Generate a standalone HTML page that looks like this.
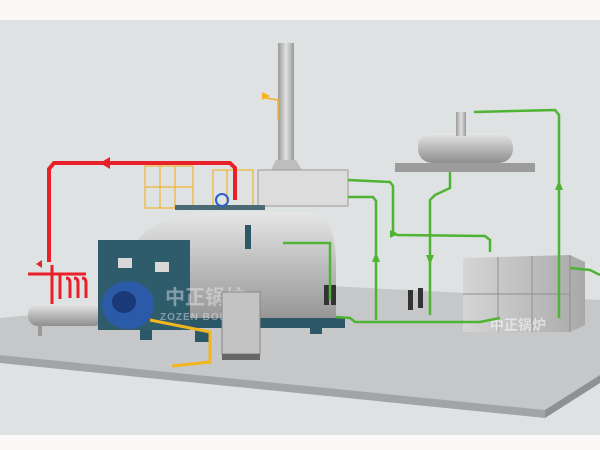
<!DOCTYPE html>
<html><head><meta charset="utf-8"><style>
html,body{margin:0;padding:0;width:600px;height:450px;overflow:hidden;background:#dfe2e3}
svg{display:block}
</style></head><body>
<svg width="600" height="450" viewBox="0 0 600 450" xmlns="http://www.w3.org/2000/svg" font-family="Liberation Sans, Noto Sans CJK SC, sans-serif">
<defs>
<linearGradient id="cyl" x1="0" y1="0" x2="0" y2="1"><stop offset="0" stop-color="#e6e6e6"/><stop offset="0.5" stop-color="#b9b9b9"/><stop offset="1" stop-color="#8e8e8e"/></linearGradient>
<linearGradient id="cylv" x1="0" y1="0" x2="1" y2="0"><stop offset="0" stop-color="#9a9a9a"/><stop offset="0.5" stop-color="#e0e0e0"/><stop offset="1" stop-color="#9a9a9a"/></linearGradient>
<linearGradient id="tank" x1="0" y1="0" x2="1" y2="0"><stop offset="0" stop-color="#d5d5d5"/><stop offset="1" stop-color="#a9a9a9"/></linearGradient>
</defs>
<rect x="0" y="0" width="600" height="20" fill="#fcf8f7"/>
<rect x="0" y="435" width="600" height="15" fill="#fcf8f7"/>
<polygon points="0,318 330,286 600,300 600,375 545,410 0,355" fill="#c6c7c9"/>
<polygon points="0,355 545,410 545,418 0,363" fill="#a3a4a6"/>
<polygon points="545,410 600,375 600,383 545,418" fill="#8f9092"/>
<rect x="278" y="43" width="16" height="122" fill="url(#cylv)"/>
<polygon points="276,160 296,160 303,172 270,172" fill="#bdbdbd"/>
<rect x="258" y="170" width="90" height="36" fill="#dcdcdc" stroke="#9a9a9a"/>
<polyline points="278,120 278,100 266,98" fill="none" stroke="#f5b21e" stroke-width="1.5"/>
<polygon points="262,92 270,96 262,100" fill="#f5b21e"/>
<g stroke="#f1b530" stroke-width="1.2" fill="none">
<rect x="145" y="166" width="48" height="42"/><line x1="160" y1="166" x2="160" y2="208"/><line x1="175" y1="166" x2="175" y2="208"/><line x1="145" y1="187" x2="193" y2="187"/>
<rect x="213" y="170" width="40" height="38"/><line x1="227" y1="170" x2="227" y2="208"/>
</g>
<polyline points="49,262 49,169 54,163 230,163 235,168 235,200" fill="none" stroke="#e8202a" stroke-width="4"/>
<polygon points="110,157 100,163 110,169" fill="#e8202a"/>
<g stroke="#e8202a" stroke-width="3" fill="none">
<line x1="28" y1="274" x2="86" y2="274"/><path d="M52 265 v40 M60 274 v25 M66 278 q4 0 4 5 v15 M74 278 q4 0 4 5 v15 M82 278 q4 0 4 5 v15"/>
</g>
<polygon points="36,264 42,260 42,268" fill="#e8202a"/>
<rect x="28" y="304" width="76" height="22" rx="10" fill="url(#cyl)"/>
<rect x="38" y="324" width="4" height="12" fill="#999"/>
<path d="M130 330 V262 Q135 212 230 212 L310 212 Q336 215 336 265 V318 Z" fill="url(#cyl)"/>
<rect x="175" y="205" width="90" height="5" fill="#4a6a74"/>
<circle cx="222" cy="200" r="6" fill="none" stroke="#2b5fd0" stroke-width="2"/>
<rect x="245" y="225" width="6" height="24" fill="#2c5766"/>
<rect x="125" y="318" width="220" height="10" fill="#2c5766"/>
<rect x="140" y="328" width="12" height="12" fill="#2c5766"/><rect x="195" y="330" width="14" height="12" fill="#2c5766"/><rect x="310" y="322" width="12" height="12" fill="#2c5766"/>
<rect x="98" y="240" width="92" height="90" fill="#2e5c6b"/>
<rect x="118" y="258" width="14" height="10" fill="#d8d8d8"/><rect x="155" y="262" width="14" height="10" fill="#d8d8d8"/>
<ellipse cx="128" cy="305" rx="26" ry="24" fill="#2b5aa8"/>
<ellipse cx="124" cy="302" rx="12" ry="11" fill="#1a3a77"/>
<text x="165" y="304" font-size="20" font-weight="bold" fill="#e9eef2" fill-opacity="0.45">中正锅炉</text>
<text x="160" y="320" font-size="10" font-weight="bold" fill="#e9eef2" fill-opacity="0.45" letter-spacing="1">ZOZEN BOILER</text>
<polyline points="150,320 200,330 210,332 210,362 172,366" fill="none" stroke="#f1b51e" stroke-width="3"/>
<rect x="222" y="292" width="38" height="62" fill="#c3c3c3" stroke="#888"/>
<rect x="222" y="354" width="38" height="6" fill="#666"/>
<g fill="#333"><rect x="324" y="285" width="5" height="20"/><rect x="331" y="285" width="5" height="20"/><rect x="408" y="290" width="5" height="20"/><rect x="418" y="288" width="5" height="20"/><rect x="493" y="305" width="5" height="22"/><rect x="503" y="302" width="5" height="22"/></g>
<rect x="395" y="163" width="140" height="9" fill="#9c9c9c"/>
<rect x="418" y="133" width="95" height="30" rx="14" fill="url(#cyl)"/>
<rect x="456" y="112" width="10" height="24" fill="url(#cylv)"/>
<polygon points="463,258 570,255 585,262 585,325 570,332 463,332" fill="url(#tank)"/>
<g stroke="#8f8f8f" stroke-width="1" fill="none"><line x1="498" y1="257" x2="498" y2="332"/><line x1="532" y1="256" x2="532" y2="332"/><line x1="463" y1="294" x2="570" y2="294"/><line x1="570" y1="255" x2="570" y2="332"/></g>
<text x="490" y="330" font-size="14" font-weight="bold" fill="#fff" fill-opacity="0.55">中正锅炉</text>
<g stroke="#4fb334" stroke-width="2.5" fill="none">
<polyline points="348,180 390,182 393,186 393,232 397,235 485,236 490,240 490,252"/>
<polyline points="348,197 373,197 376,201 376,320"/>
<polyline points="450,172 450,188 435,195 430,200 430,315"/>
<polyline points="474,112 555,110 559,115 559,318"/>
<polyline points="570,268 590,270 600,275"/>
<polyline points="336,317 350,318 355,322 480,322 500,318"/>
<polyline points="283,243 300,243 330,243 330,300"/>
</g>
<g fill="#4fb334"><polygon points="372,262 376,252 380,262"/><polygon points="426,255 430,265 434,255"/><polygon points="555,190 559,180 563,190"/><polygon points="390,230 398,234 390,238"/></g>
</svg>
</body></html>
